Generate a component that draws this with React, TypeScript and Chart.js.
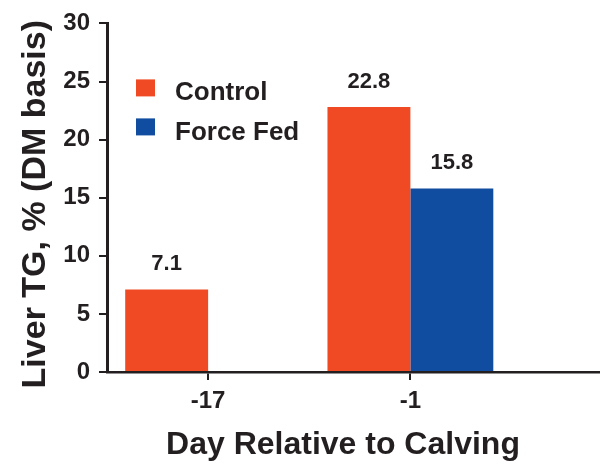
import React, { useEffect, useRef } from "react";
import { Chart, registerables } from "chart.js";

Chart.register(...registerables);

// Days relative to calving where samples were taken
const days = [-17, -1];
// Liver triglyceride, % of dry matter
const controlValues = [7.1, 22.8];
const forceFedDays = [-1];
const forceFedValues = [15.8];

const yTickValues = [0, 5, 10, 15, 20, 25, 30];
const seriesNames = ["Control", "Force Fed"];
const seriesColors = ["#F04A24", "#104C9F"];
const xTitle = "Day Relative to Calving";
const yTitle = "Liver TG, % (DM basis)";

const INK = "#231F20";
const FONT = "'Liberation Sans', Arial, Helvetica, sans-serif";

// Axis titles, placed relative to the plot area
const axisTitlesPlugin = {
  id: "axisTitles",
  afterDraw(chart: any) {
    const { ctx, chartArea } = chart;
    ctx.save();
    ctx.fillStyle = INK;
    ctx.textAlign = "center";
    ctx.textBaseline = "alphabetic";
    ctx.font = `bold 32px ${FONT}`;
    ctx.fillText(xTitle, chartArea.left + 236, chartArea.bottom + 82);
    ctx.translate(chartArea.left - 62, (chartArea.top + chartArea.bottom) / 2 + 6.5);
    ctx.rotate(-Math.PI / 2);
    ctx.font = `bold 34px ${FONT}`;
    ctx.fillText(yTitle, 0, 0);
    ctx.restore();
  },
};

// Legend drawn inside the plot area, top-left
const insideLegendPlugin = {
  id: "insideLegend",
  afterDraw(chart: any) {
    const { ctx, chartArea } = chart;
    ctx.save();
    ctx.font = `bold 26px ${FONT}`;
    ctx.textAlign = "left";
    ctx.textBaseline = "alphabetic";
    chart.data.datasets.forEach((ds: any, i: number) => {
      const x = chartArea.left + 29;
      const y = chartArea.top + 56 + i * 39;
      ctx.fillStyle = ds.backgroundColor;
      ctx.fillRect(x, y, 19, 17);
      ctx.fillStyle = INK;
      ctx.fillText(ds.label, chartArea.left + 68, chartArea.top + 77 + i * 40);
    });
    ctx.restore();
  },
};

// Value printed above each bar
const valueLabelsPlugin = {
  id: "valueLabels",
  afterDatasetsDraw(chart: any) {
    const { ctx } = chart;
    ctx.save();
    ctx.font = `bold 22px ${FONT}`;
    ctx.fillStyle = INK;
    ctx.textAlign = "center";
    ctx.textBaseline = "alphabetic";
    chart.data.datasets.forEach((ds: any, di: number) => {
      const meta = chart.getDatasetMeta(di);
      meta.data.forEach((bar: any, i: number) => {
        const v = ds.data[i].y;
        ctx.fillText(v.toFixed(1), bar.x, bar.y - 19);
      });
    });
    ctx.restore();
  },
};

export default function App() {
  const canvasRef = useRef<HTMLCanvasElement>(null);

  useEffect(() => {
    const tickFont = { family: FONT, size: 24, weight: "bold" as const };
    const chart = new Chart(canvasRef.current!, {
      type: "bar",
      data: {
        datasets: [
          {
            label: seriesNames[0],
            data: days.map((d, i) => ({ x: d, y: controlValues[i] })),
            backgroundColor: seriesColors[0],
            categoryPercentage: 0.82,
            barPercentage: 1,
          },
          {
            label: seriesNames[1],
            data: forceFedDays.map((d, i) => ({ x: d, y: forceFedValues[i] })),
            backgroundColor: seriesColors[1],
            categoryPercentage: 0.82,
            barPercentage: 1,
          },
        ],
      },
      options: {
        responsive: false,
        animation: false,
        layout: { padding: { top: 18, right: 0, bottom: 0, left: 0 } },
        plugins: {
          legend: { display: false },
          tooltip: { enabled: false },
        },
        scales: {
          x: {
            type: "linear",
            min: -25,
            max: 14,
            offset: false,
            grid: {
              offset: false,
              display: true,
              drawOnChartArea: false,
              drawTicks: true,
              tickLength: 8,
              color: INK,
              lineWidth: 2,
            },
            border: { display: true, color: INK, width: 2.5 },
            ticks: {
              font: tickFont,
              color: INK,
              padding: 7,
              maxRotation: 0,
              callback: (v: any) => String(v),
            },
            afterBuildTicks: (axis: any) => {
              axis.ticks = days.map((v) => ({ value: v }));
            },
            afterFit: (scale: any) => {
              scale.height = 93;
            },
          },
          y: {
            min: 0,
            max: 30,
            grid: {
              display: true,
              drawOnChartArea: false,
              drawTicks: true,
              tickLength: 8,
              color: INK,
              lineWidth: 2,
            },
            border: { display: true, color: INK, width: 3 },
            ticks: { font: tickFont, color: INK, padding: 9 },
            afterBuildTicks: (axis: any) => {
              axis.ticks = yTickValues.map((v) => ({ value: v }));
            },
            afterFit: (scale: any) => {
              scale.width = 107;
            },
          },
        },
      } as any,
      plugins: [axisTitlesPlugin, insideLegendPlugin, valueLabelsPlugin],
    });
    return () => chart.destroy();
  }, []);

  return (
    <div
      style={{
        position: "fixed",
        left: 0,
        top: 0,
        width: 600,
        height: 465,
        background: "#ffffff",
      }}
    >
      <canvas
        ref={canvasRef}
        width={600}
        height={465}
        style={{ width: 600, height: 465, display: "block" }}
      />
    </div>
  );
}
